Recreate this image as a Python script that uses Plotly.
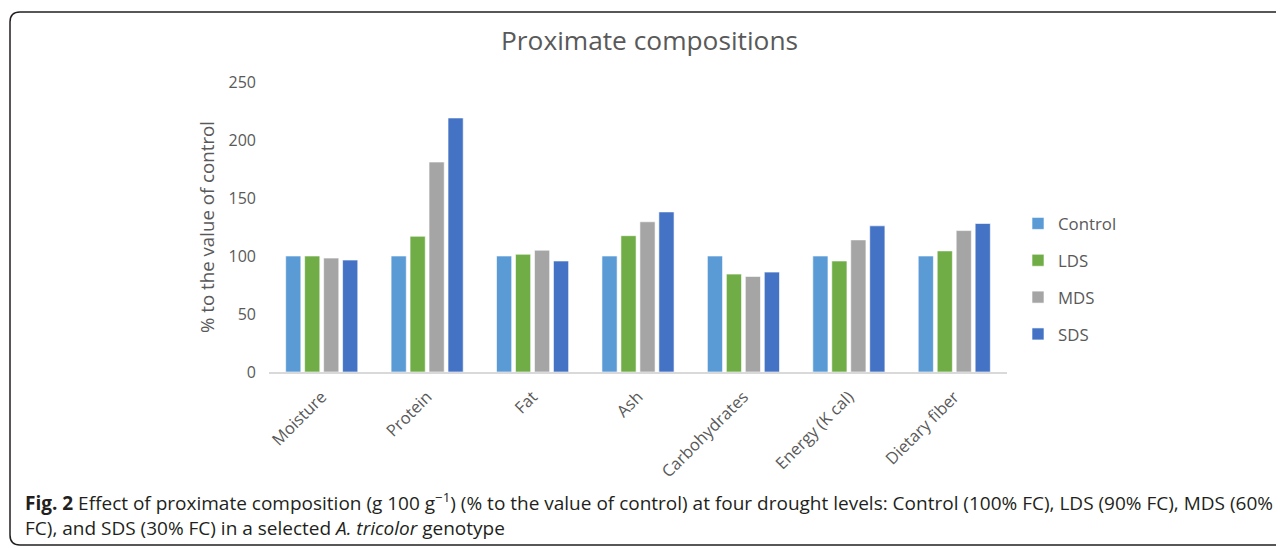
import plotly.graph_objects as go

categories = ["Moisture", "Protein", "Fat", "Ash", "Carbohydrates", "Energy (K cal)", "Dietary fiber"]
control = [100, 100, 100, 100, 100, 100, 100]
lds = [100, 117, 101.5, 117.5, 84.4, 95.7, 104.4]
mds = [98.2, 181, 105, 129.5, 82.4, 113.9, 121.9]
sds = [96.5, 219, 95.7, 138, 86.1, 126, 128]
series_names = ["Control", "LDS", "MDS", "SDS"]
series_values = [control, lds, mds, sds]
colors = ["#5B9BD5", "#70AD47", "#A5A5A5", "#4472C4"]
y_ticks = [0, 50, 100, 150, 200, 250]

# page has an 8px body margin; work in page pixels and convert
OFF = 8
W, H = 1284, 548
plot_left, plot_right, plot_top, plot_bottom = 269, 1007, 82, 372
L = plot_left - OFF
T = plot_top - OFF
R = W - (plot_right - OFF)
B = H - (plot_bottom - OFF)
pw, ph = W - L - R, H - T - B

def px_x(x):
    return (x - plot_left) / pw

def px_y(y):
    return (plot_bottom - y) / ph

fig = go.Figure()
for name, vals, col in zip(series_names, series_values, colors):
    fig.add_trace(go.Bar(
        x=categories, y=vals, name=name, legendgroup=name,
        marker=dict(color=col, line=dict(color="rgba(255,255,255,0.6)", width=1)),
    ))

font_family = "Open Sans, Noto Sans, sans-serif"
grey = "#595959"

fig.update_layout(
    width=W, height=H,
    margin=dict(l=L, r=R, t=T, b=B, autoexpand=False),
    paper_bgcolor="white", plot_bgcolor="white",
    barmode="group", bargap=0.28, bargroupgap=0.2,
    font=dict(family=font_family, color=grey, size=16),
    showlegend=True,
    legend=dict(
        x=px_x(1018), y=px_y(206), xanchor="left", yanchor="top",
        font=dict(size=16.8, color=grey), tracegroupgap=12,
        itemwidth=30, bgcolor="rgba(0,0,0,0)",
    ),
    xaxis=dict(
        showline=True, linecolor="#D9D9D9", linewidth=1.5,
        tickangle=-45, tickfont=dict(size=16.5, color=grey),
        ticks="", showgrid=False, zeroline=False, ticklabelstandoff=7,
    ),
    yaxis=dict(
        range=[0, 250], tickvals=y_ticks, showgrid=False, zeroline=False,
        showline=False, tickfont=dict(size=16, color=grey), ticks="",
        ticklabelstandoff=12,
        title=dict(text="% to the value of control", font=dict(size=18.7, color=grey), standoff=9),
    ),
)

fig.add_annotation(
    text="Proximate compositions", xref="paper", yref="paper",
    x=px_x(649), y=px_y(40), xanchor="center", yanchor="middle",
    showarrow=False, font=dict(size=26.3, color=grey, family=font_family),
)

cap1 = ("<b>Fig. 2</b> Effect of proximate composition (g 100 g<sup>\u22121</sup>) (% to the value of control) "
        "at four drought levels: Control (100% FC), LDS (90% FC), MDS (60%")
cap2 = "FC), and SDS (30% FC) in a selected <i>A. tricolor</i> genotype"
for txt, yy in [(cap1, 502), (cap2, 528)]:
    fig.add_annotation(
        text=txt, xref="paper", yref="paper", x=px_x(23), y=px_y(yy),
        xanchor="left", yanchor="middle", showarrow=False, align="left",
        font=dict(size=19.0, color="#231F20", family="Open Sans, sans-serif"),
    )

# rounded frame
x0, x1 = px_x(10), px_x(1300)
y0, y1 = px_y(12), px_y(545)
rx, ry = 10 / pw, 10 / ph
path = (f"M {x1},{y0} L {x0+rx},{y0} Q {x0},{y0} {x0},{y0-ry} "
        f"L {x0},{y1+ry} Q {x0},{y1} {x0+rx},{y1} L {x1},{y1}")
fig.add_shape(type="path", path=path, xref="paper", yref="paper",
              line=dict(color="#231F20", width=1.5))

fig.write_html("out.html")
